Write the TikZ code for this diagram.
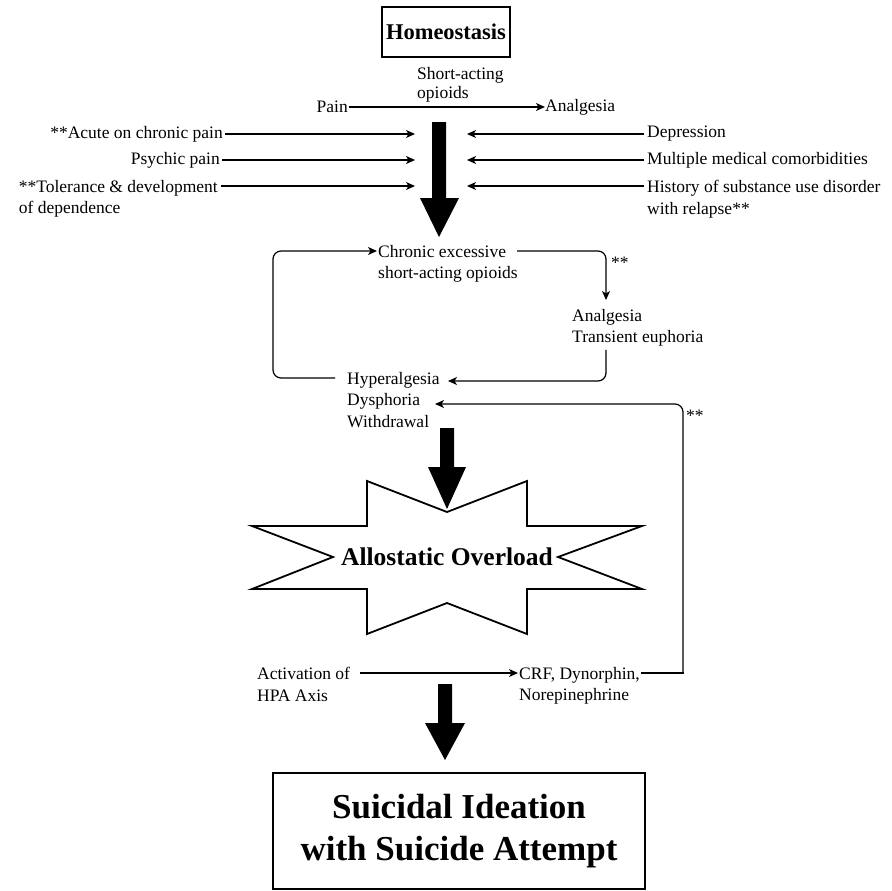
\documentclass[tikz,border=0pt]{standalone}
\usepackage{fontspec}
\setmainfont{Liberation Serif}
\usetikzlibrary{arrows.meta,calc}
\begin{document}
\begin{tikzpicture}[x=1pt,y=-1pt,
  txt/.style={inner sep=0pt, font=\fontsize{17.5}{21.5}\selectfont},
  mtxt/.style={txt, align=left},
  arr/.style={-{Stealth[length=9pt,width=8pt,inset=2.5pt]}, line width=1.2pt},
  ln/.style={line width=1.2pt},
  stars/.style={txt},
  blockarrow/.style={fill=black, draw=none}]
\useasboundingbox (0,0) rectangle (891,891);

% top
\node[draw, line width=1.2pt, minimum width=128pt, minimum height=50pt, inner sep=0pt,
      font=\bfseries\fontsize{22.5}{26}\selectfont] (homeo) at (446,32) {Homeostasis};
\node[mtxt, anchor=north west, font=\fontsize{17.5}{19}\selectfont] (sao) at (417,67) {Short-acting\\opioids};
\node[txt, anchor=east] (pain) at (348,107) {Pain};
\node[txt, anchor=west] (an1) at (545,107) {Analgesia};
\draw[arr] ($(pain.east)+(1,0)$) -- (an1.west);

% left inputs
\coordinate (L1) at (415,134);
\coordinate (L2) at (415,160);
\coordinate (L3) at (415,186);
\node[txt, anchor=east] (acute) at (223,134) {**Acute on chronic pain};
\node[txt, anchor=east] (psy) at (220,160) {Psychic pain};
\node[mtxt, anchor=north east] (tol) at (218,180) {**Tolerance \& development\\of dependence};
\draw[arr] ($(acute.east)+(2,0)$) -- (L1);
\draw[arr] ($(psy.east)+(2,0)$) -- (L2);
\draw[arr] ($(tol.north east |- L3)+(3,0)$) -- (L3);

% right inputs
\coordinate (R1) at (467,134);
\coordinate (R2) at (467,160);
\coordinate (R3) at (467,186);
\node[txt, anchor=west] (dep) at (647,134) {Depression};
\node[txt, anchor=west] (mult) at (647,160) {Multiple medical comorbidities};
\node[mtxt, anchor=north west] (hist) at (647,180) {History of substance use disorder\\with relapse**};
\draw[arr] ($(dep.west)+(-3,0)$) -- (R1);
\draw[arr] ($(mult.west)+(-3,0)$) -- (R2);
\draw[arr] ($(hist.north west |- R3)+(-3,0)$) -- (R3);

% big arrow 1
\fill[blockarrow] (432,122) -- (446,122) -- (446,198) -- (459,198) -- (439,237) -- (420,198) -- (432,198) -- cycle;

% cycle
\node[mtxt, anchor=north west] (chr) at (378,245) {Chronic excessive\\short-acting opioids};
\coordinate (c1) at (517,251);
\coordinate (k1) at (606,300);
\draw[arr, rounded corners=8pt] (c1) -| (k1);
\node[stars, anchor=west] (st1) at (611,263) {**};
\node[mtxt, anchor=north west] (an2) at (572,309) {Analgesia\\Transient euphoria};
\coordinate (k2) at (448,381);
\draw[arr, rounded corners=8pt] ($(an2.south -| k1)+(0,3)$) |- (k2);
\node[mtxt, anchor=north west] (hyp) at (347,372) {Hyperalgesia\\Dysphoria\\Withdrawal};
\coordinate (h0) at (335,378);
\coordinate (lp) at (273,251);
\draw[arr, rounded corners=8pt] (h0) -| (lp) -- ($(chr.north west |- c1)+(-1,0)$);

% big arrow 2
\fill[blockarrow] (440,428) -- (454,428) -- (454,467) -- (466,467) -- (447,509) -- (428,467) -- (440,467) -- cycle;

% star
\draw[line width=1.8pt, line join=miter] (447,512) -- (527,481) -- (527,526) -- (642,526) -- (558,557) -- (642,589) -- (527,589) -- (527,634) -- (447,603) -- (367,634) -- (367,589) -- (252,589) -- (333,557) -- (252,526) -- (367,526) -- (367,481) -- cycle;
\node[inner sep=0pt, font=\bfseries\fontsize{25.5}{30}\selectfont] (allo) at (447,557) {Allostatic Overload};

% HPA
\node[mtxt, anchor=north west] (act) at (257,667) {Activation of\\HPA Axis};
\node[mtxt, anchor=north west] (crf) at (519,667) {CRF, Dynorphin,\\Norepinephrine};
\coordinate (ay) at (0,673);
\draw[arr] ($(act.north east |- ay)+(10,0)$) -- ($(crf.north west |- ay)+(-1,0)$);
\coordinate (f1) at (683,673);
\coordinate (f2) at (683,404);
\coordinate (f3) at (435,404);
\draw[ln, line cap=rect] ($(crf.north east |- f1)+(2,0)$) -- (f1);
\draw[arr, rounded corners=8pt] (f1) -- (f2) -- (f3);
\node[stars, anchor=west] (st2) at (686,416) {**};

% big arrow 3
\fill[blockarrow] (438,684) -- (452,684) -- (452,723) -- (465,723) -- (445,760) -- (425,723) -- (438,723) -- cycle;

% result
\node[draw, line width=1.3pt, minimum width=372pt, minimum height=116pt, inner sep=0pt, align=center,
      font=\bfseries\fontsize{35}{42}\selectfont] (sui) at (459,831) {Suicidal Ideation\\with Suicide Attempt};
\end{tikzpicture}
\end{document}
